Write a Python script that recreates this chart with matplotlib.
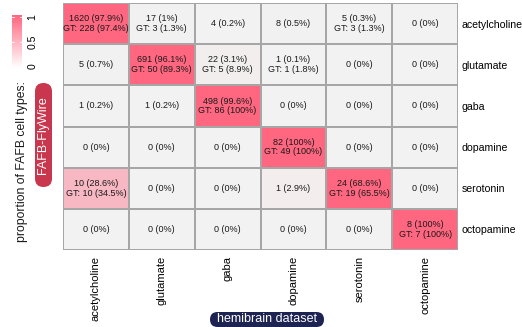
import numpy as np
import matplotlib
matplotlib.use("Agg")
import matplotlib.pyplot as plt
from matplotlib.colors import LinearSegmentedColormap
from matplotlib.patches import FancyBboxPatch
from matplotlib.transforms import IdentityTransform

plt.rcParams["font.family"] = ["Liberation Sans", "DejaVu Sans"]

# FAFB-FlyWire rows vs hemibrain columns
row_types = ["acetylcholine", "glutamate", "gaba", "dopamine", "serotonin", "octopamine"]
col_types = ["acetylcholine", "glutamate", "gaba", "dopamine", "serotonin", "octopamine"]

counts = [
    [1620, 17, 4, 8, 5, 0],
    [5, 691, 22, 1, 0, 0],
    [1, 1, 498, 0, 0, 0],
    [0, 0, 0, 82, 0, 0],
    [10, 0, 0, 1, 24, 0],
    [0, 0, 0, 0, 0, 8],
]
percents = [
    [97.9, 1, 0.2, 0.5, 0.3, 0],
    [0.7, 96.1, 3.1, 0.1, 0, 0],
    [0.2, 0.2, 99.6, 0, 0, 0],
    [0, 0, 0, 100, 0, 0],
    [28.6, 0, 0, 2.9, 68.6, 0],
    [0, 0, 0, 0, 0, 100],
]
gt_counts = [
    [228, 3, 0, 0, 3, 0],
    [0, 50, 5, 1, 0, 0],
    [0, 0, 86, 0, 0, 0],
    [0, 0, 0, 49, 0, 0],
    [10, 0, 0, 0, 19, 0],
    [0, 0, 0, 0, 0, 7],
]
gt_percents = [
    [97.4, 1.3, 0, 0, 1.3, 0],
    [0, 89.3, 8.9, 1.8, 0, 0],
    [0, 0, 100, 0, 0, 0],
    [0, 0, 0, 100, 0, 0],
    [34.5, 0, 0, 0, 65.5, 0],
    [0, 0, 0, 0, 0, 100],
]

pct = np.array(percents, dtype=float)
# colour intensity relative to the strongest match in each row
shade = pct / pct.max(axis=1, keepdims=True)

cmap = LinearSegmentedColormap.from_list("pinks", ["#F2F2F2", "#FF6680"])

W, H = 522, 327
fig = plt.figure(figsize=(W / 100, H / 100), dpi=100)
ax = fig.add_axes([63 / W, 1 - 250 / H, 395 / W, 247 / H])

nr, nc = pct.shape
ax.pcolormesh(np.arange(nc + 1), np.arange(nr + 1), shade, cmap=cmap,
              vmin=0, vmax=1, edgecolors="#A6A6A6", linewidth=1.2)
ax.set_xlim(0, nc)
ax.set_ylim(nr, 0)

for i in range(nr):
    for j in range(nc):
        label = f"{counts[i][j]} ({percents[i][j]:g}%)"
        if gt_counts[i][j] > 0:
            label += f"\nGT: {gt_counts[i][j]} ({gt_percents[i][j]:g}%)"
        ax.text(j + 0.5, i + 0.5, label, ha="center", va="center",
                fontsize=6.5, color="#1a1a1a", linespacing=1.1)

ax.set_xticks(np.arange(nc) + 0.5)
ax.set_xticklabels(col_types, rotation=90, fontsize=8, va="top")
ax.set_yticks(np.arange(nr) + 0.5)
ax.set_yticklabels(row_types, fontsize=7.6)
ax.yaxis.tick_right()
ax.tick_params(axis="x", length=0, pad=4)
ax.tick_params(axis="y", length=0, pad=2.5)
for s in ax.spines.values():
    s.set_visible(False)

# colour bar
cax = fig.add_axes([12 / W, 1 - 68 / H, 10 / W, 53 / H])
grad = np.linspace(0, 1, 100).reshape(-1, 1)
cax.imshow(grad, aspect="auto", cmap=LinearSegmentedColormap.from_list(
    "bar", ["#FFFFFF", "#FF6680"]), origin="lower", extent=[0, 1, 0, 1])
cax.set_xticks([])
cax.yaxis.tick_right()
cax.set_yticks([0.03, 0.5, 0.97])
cax.set_yticklabels(["0", "0.5", "1"], rotation=90, va="center", fontsize=7.5)
cax.tick_params(length=0, pad=4)
for s in cax.spines.values():
    s.set_visible(False)
for yv in (0.5, 0.97):
    cax.axhline(yv, color="white", lw=0.6, xmin=0, xmax=0.2)
    cax.axhline(yv, color="white", lw=0.6, xmin=0.8, xmax=1)

fig.text(22 / W, 1 - 162 / H, "proportion of FAFB cell types:", rotation=90,
         ha="center", va="center", fontsize=8.8, color="#1a1a1a")

# rounded label boxes drawn in pixel coordinates
def pill(x0, y0, x1, y1, color):
    r = min(x1 - x0, y1 - y0) / 2
    box = FancyBboxPatch((x0 + r, H - y1 + r), (x1 - x0) - 2 * r, (y1 - y0) - 2 * r,
                         boxstyle=f"round,pad={r},rounding_size={r}",
                         fc=color, ec="none", transform=IdentityTransform())
    fig.add_artist(box)

pill(35, 83, 52, 187, "#C8374D")
fig.text(43.5 / W, 1 - 135 / H, "FAFB-FlyWire", rotation=90,
         ha="center", va="center", fontsize=9, color="white")

pill(210, 312, 324, 327, "#1E2452")
fig.text(267 / W, 1 - 319.5 / H, "hemibrain dataset",
         ha="center", va="center", fontsize=9, color="white")

fig.savefig("out.png", dpi=100)
